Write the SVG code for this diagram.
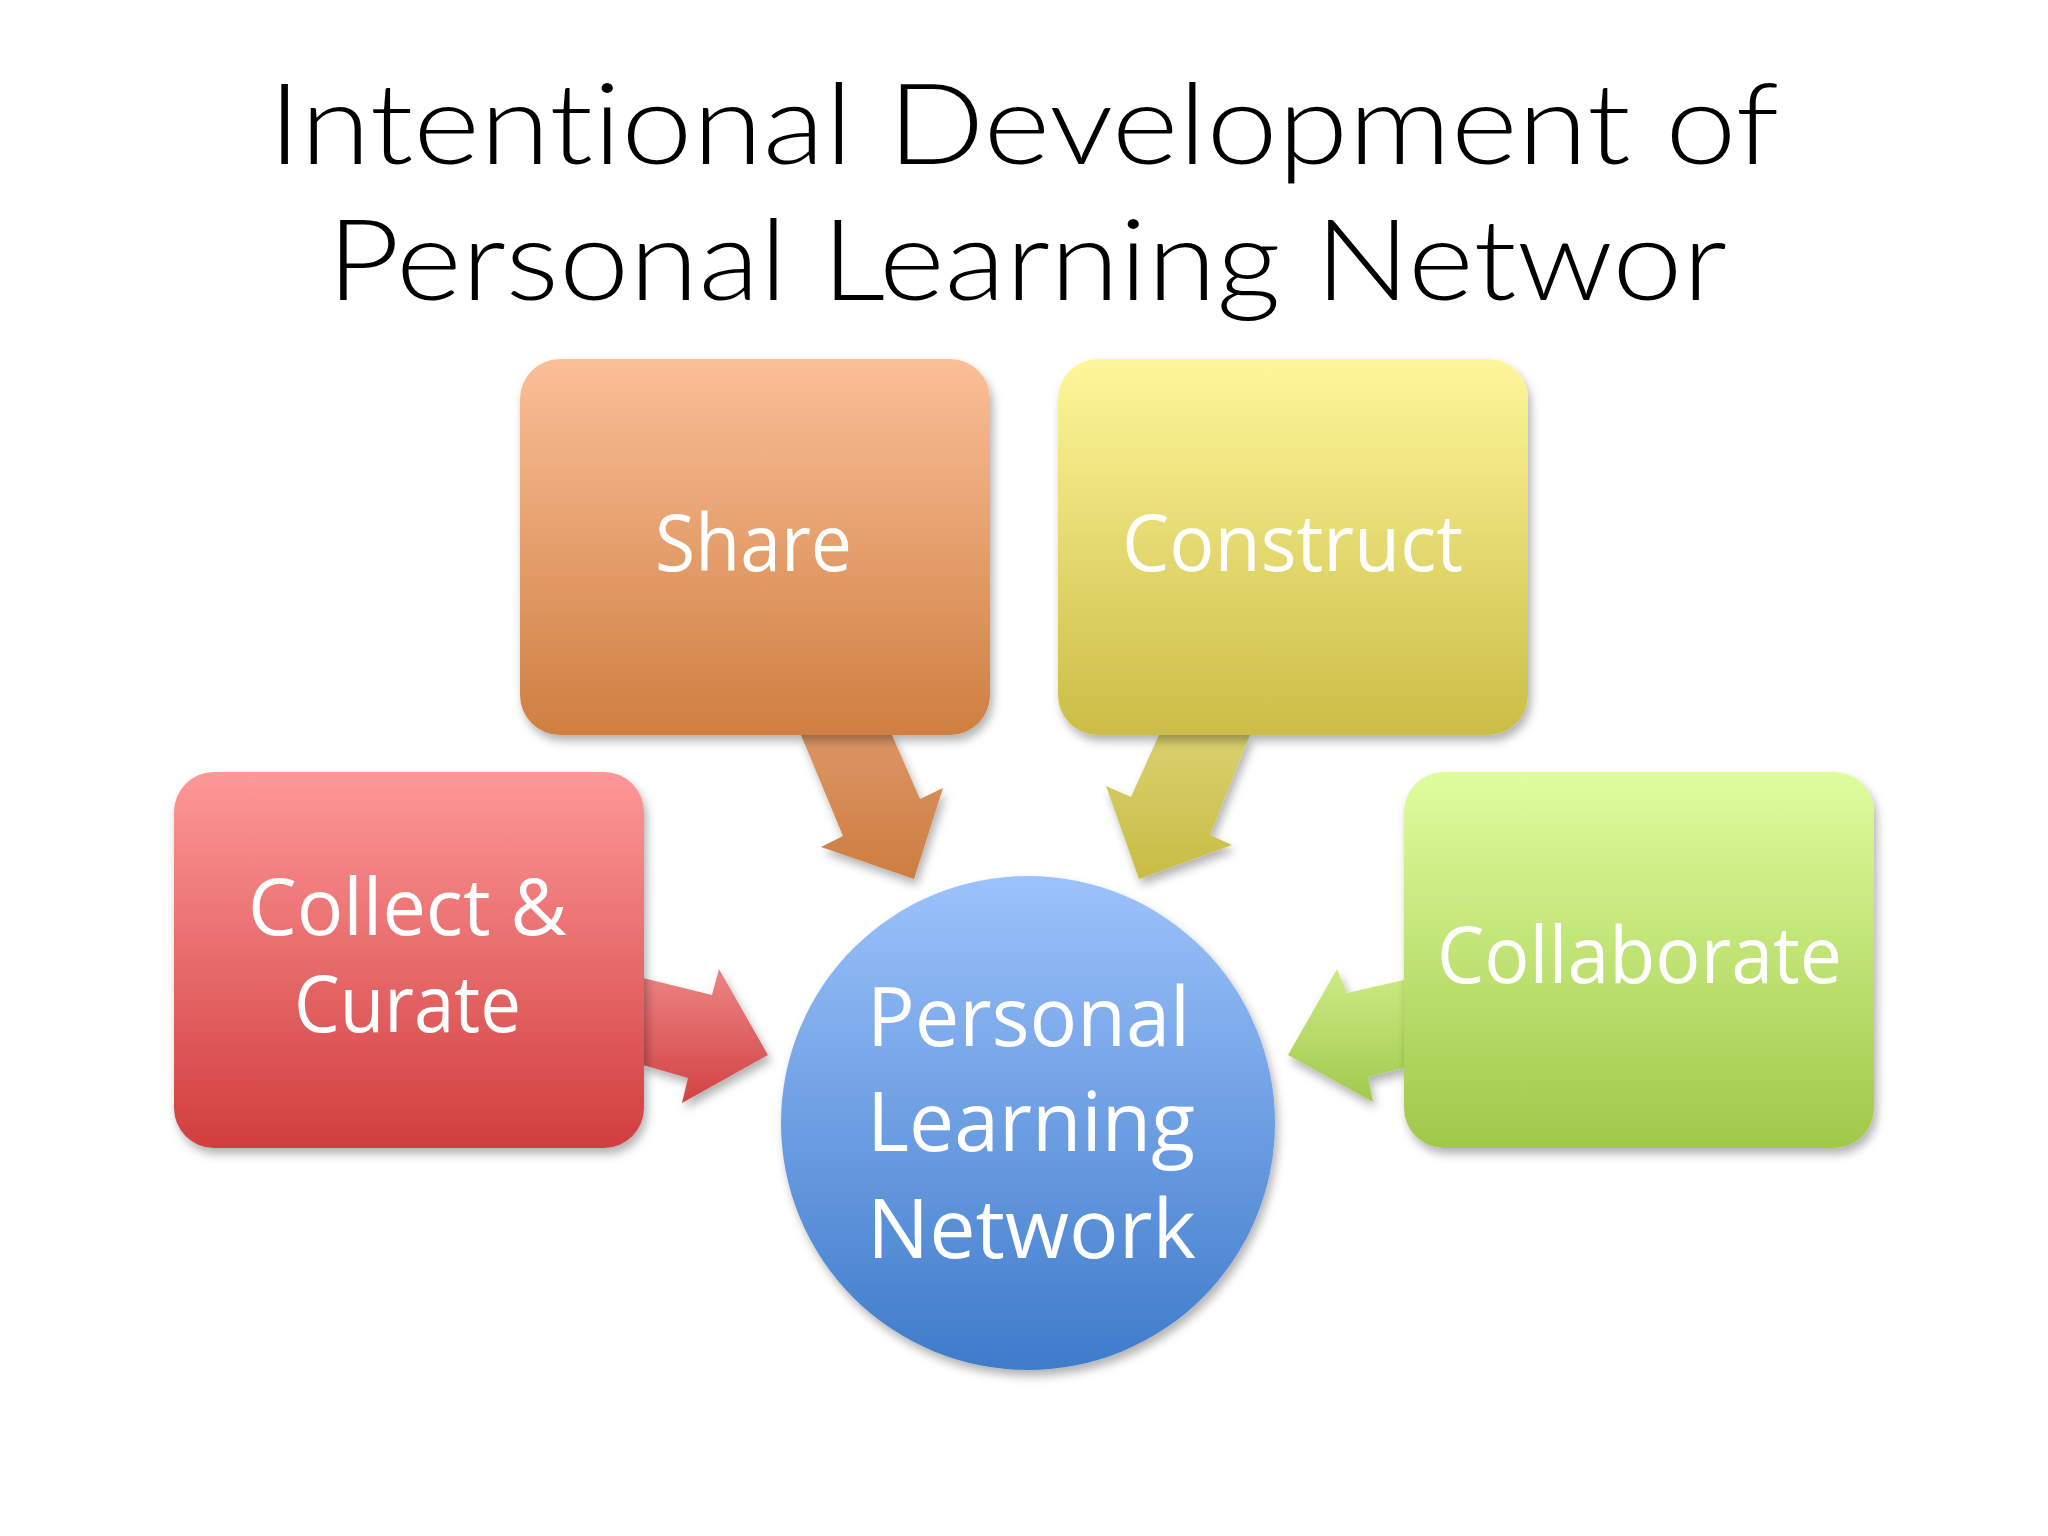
<svg xmlns="http://www.w3.org/2000/svg" width="2048" height="1536" viewBox="0 0 2048 1536">
  <defs>
    <linearGradient id="gShare" x1="0" y1="0" x2="0" y2="1">
      <stop offset="0" stop-color="#FBBF98"/>
      <stop offset="1" stop-color="#CF7F40"/>
    </linearGradient>
    <linearGradient id="gConstruct" x1="0" y1="0" x2="0" y2="1">
      <stop offset="0" stop-color="#FEF69A"/>
      <stop offset="1" stop-color="#CBBD46"/>
    </linearGradient>
    <linearGradient id="gCollect" x1="0" y1="0" x2="0" y2="1">
      <stop offset="0" stop-color="#FE9898"/>
      <stop offset="1" stop-color="#D13E3E"/>
    </linearGradient>
    <linearGradient id="gCollab" x1="0" y1="0" x2="0" y2="1">
      <stop offset="0" stop-color="#DFFD9E"/>
      <stop offset="1" stop-color="#A0C849"/>
    </linearGradient>
    <linearGradient id="gCircle" x1="0" y1="0" x2="0" y2="1">
      <stop offset="0" stop-color="#9CC2FB"/>
      <stop offset="1" stop-color="#3E7BCA"/>
    </linearGradient>
    <linearGradient id="aShare" x1="0" y1="0" x2="0" y2="1">
      <stop offset="0" stop-color="#DD9565"/>
      <stop offset="1" stop-color="#CD7E40"/>
    </linearGradient>
    <linearGradient id="aConstruct" x1="0" y1="0" x2="0" y2="1">
      <stop offset="0" stop-color="#D9D06E"/>
      <stop offset="1" stop-color="#C9BC45"/>
    </linearGradient>
    <linearGradient id="aCollect" x1="0" y1="0" x2="0" y2="1">
      <stop offset="0" stop-color="#EC8585"/>
      <stop offset="1" stop-color="#D24242"/>
    </linearGradient>
    <linearGradient id="aCollab" x1="0" y1="0" x2="0" y2="1">
      <stop offset="0" stop-color="#CDEB85"/>
      <stop offset="1" stop-color="#A2C94D"/>
    </linearGradient>
    <filter id="shadow" x="-10%" y="-10%" width="125%" height="125%">
      <feDropShadow dx="3" dy="6" stdDeviation="5" flood-color="#000" flood-opacity="0.3"/>
    </filter>
  </defs>
  <style>
    .title { font-family: Lato, "Liberation Sans", sans-serif; font-size: 112px; fill: #000; font-weight: 300; font-variant-ligatures: none; }
    .lbl { font-family: "Open Sans", "Liberation Sans", sans-serif; font-size: 78px; fill: #FFFFFF; }
    .clbl { font-family: "Open Sans", "Liberation Sans", sans-serif; font-size: 83px; fill: #FFFFFF; }
  </style>
  <rect width="2048" height="1536" fill="#FFFFFF"/>

  <g id="title">
    <text class="title" x="268" y="164" textLength="1511" lengthAdjust="spacingAndGlyphs">Intentional Development of</text>
    <text class="title" x="327" y="300" textLength="1400" lengthAdjust="spacingAndGlyphs">Personal Learning Networ</text>
  </g>

  <g id="connectors" filter="url(#shadow)">
    <polygon id="arrow-share" fill="url(#aShare)" points="801,735 892,735 920,799 943,788 914,879 821,847 843,836"/>
    <polygon id="arrow-construct" fill="url(#aConstruct)" points="1159,735 1250,735 1210,835 1232,845 1139,879 1106,786 1131,797"/>
    <polygon id="arrow-collect" fill="url(#aCollect)" points="643,978 712,995 719,969 768,1055 682,1103 688,1078 643,1065"/>
    <polygon id="arrow-collab" fill="url(#aCollab)" points="1404,980 1347,993 1337,969 1288,1055 1373,1102 1368,1077 1404,1068"/>
  </g>

  <g id="node-share">
    <rect x="520" y="359" width="470" height="376" rx="40" fill="url(#gShare)" filter="url(#shadow)"/>
    <text class="lbl" x="655" y="571" textLength="197" lengthAdjust="spacingAndGlyphs">Share</text>
  </g>
  <g id="node-construct">
    <rect x="1058" y="359" width="470" height="376" rx="40" fill="url(#gConstruct)" filter="url(#shadow)"/>
    <text class="lbl" x="1122" y="571" textLength="341" lengthAdjust="spacingAndGlyphs">Construct</text>
  </g>
  <g id="node-collect">
    <rect x="174" y="772" width="470" height="376" rx="40" fill="url(#gCollect)" filter="url(#shadow)"/>
    <text class="lbl" x="248" y="935" textLength="319" lengthAdjust="spacingAndGlyphs">Collect &amp;</text>
    <text class="lbl" x="294" y="1032" textLength="227" lengthAdjust="spacingAndGlyphs">Curate</text>
  </g>
  <g id="node-collaborate">
    <rect x="1404" y="772" width="470" height="376" rx="40" fill="url(#gCollab)" filter="url(#shadow)"/>
    <text class="lbl" x="1437" y="983" textLength="405" lengthAdjust="spacingAndGlyphs">Collaborate</text>
  </g>
  <g id="node-pln">
    <circle cx="1028" cy="1123" r="247" fill="url(#gCircle)" filter="url(#shadow)"/>
    <text class="clbl" x="867" y="1046" textLength="323" lengthAdjust="spacingAndGlyphs">Personal</text>
    <text class="clbl" x="867" y="1151" textLength="328" lengthAdjust="spacingAndGlyphs">Learning</text>
    <text class="clbl" x="867" y="1258" textLength="329" lengthAdjust="spacingAndGlyphs">Network</text>
  </g>
</svg>
